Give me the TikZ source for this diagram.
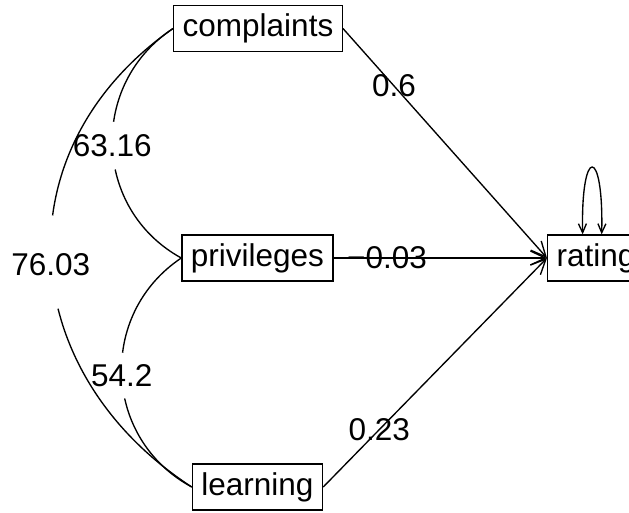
\documentclass[tikz,border=0pt]{standalone}
\usepackage{fontspec}
\setmainfont{Liberation Sans}
\usetikzlibrary{arrows.meta}
\begin{document}
\begin{tikzpicture}[x=1pt,y=-1pt, line width=1.35pt,
  var/.style={draw, font=\fontsize{31.5}{36}\selectfont, inner xsep=9pt, inner ysep=0pt, minimum height=46pt},
  lab/.style={font=\fontsize{31.5}{36}\selectfont, inner sep=0pt},
  regpath/.style={-{Straight Barb[length=15pt,width=14pt]}},
  loopath/.style={{Straight Barb[length=9pt,width=8pt]}-{Straight Barb[length=9pt,width=8pt]}},
]
\useasboundingbox (0,0) rectangle (629,512);
\node[var] (comp) at (258,28.5) {complaints};
\node[var] (priv) at (257.5,258) {privileges};
\node[var] (learn) at (257.5,487) {learning};
\node[var,anchor=west] (rate) at (547,258) {rating};

\draw[regpath] (comp.east) -- node[lab,pos=0.25] (l1) {0.6} (rate.west);
\draw[regpath] (priv.east) -- node[lab,pos=0.25] (l2) {−0.03} (rate.west);
\draw[regpath] (learn.east) -- node[lab,pos=0.25] (l3) {0.23} (rate.west);

\draw[dash pattern=on 114pt off 48pt on 400pt] (comp.west) .. controls +(-84.4,55.6) and +(-88.6,-48.6) .. node[lab,pos=0.5] (c1) {63.16} (priv.west);
\draw[dash pattern=on 115pt off 46pt on 400pt] (priv.west) .. controls +(-84,56.1) and +(-89,-48) .. node[lab,pos=0.5] (c2) {54.2} (learn.west);
\draw[dash pattern=on 229pt off 94pt on 600pt] (comp.west) .. controls +(-174,121.5) and +(-177,-115) .. node[lab,pos=0.5,yshift=-4pt] (c3) {76.03} (learn.west);

\draw[loopath] ([xshift=-13.4pt]rate.north) .. controls +(-2,-89) and +(2,-89) .. ([xshift=5.6pt]rate.north);
\end{tikzpicture}
\end{document}
